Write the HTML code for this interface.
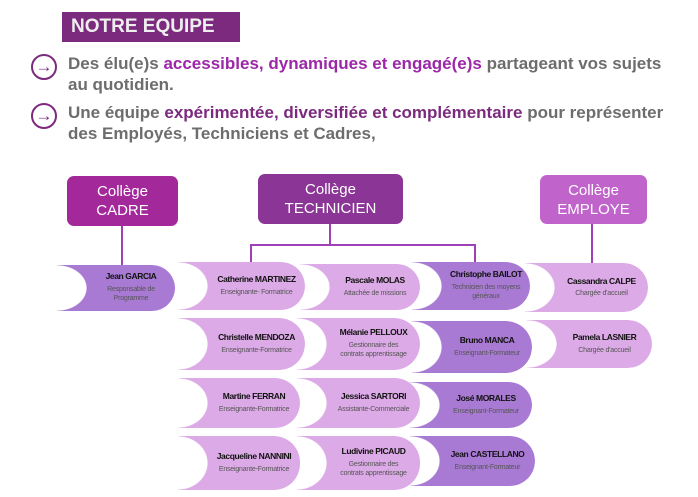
<!DOCTYPE html>
<html><head><meta charset="utf-8"><style>
body{margin:0;width:698px;height:497px;background:#fff;position:relative;overflow:hidden;font-family:"Liberation Sans",sans-serif}
.t{position:absolute;left:62px;top:12px;width:178px;height:30px;background:#7c2a7e;color:#eee;font-weight:bold;font-size:19px;line-height:30px;padding-left:9px;box-sizing:border-box}
.p{position:absolute;left:68px;color:#6d6d6d;font-weight:bold;line-height:21px;white-space:nowrap;font-size:17px}
.p b{color:#9c27a8}
.c{position:absolute;left:31px;width:22px;height:22px;border:2px solid #7c2a7e;border-radius:50%;color:#7c2a7e;font-size:17px;line-height:21px;text-align:center}
.h{position:absolute;color:#fff;font-size:15px;line-height:19px;text-align:center;border-radius:7px;display:flex;align-items:center;justify-content:center}
.l{position:absolute;background:#a040b8}
.k{position:absolute;border-radius:0 26px 26px 0;display:flex;flex-direction:column;justify-content:center;align-items:center;padding-left:30px;box-sizing:border-box;text-align:center;color:#555;font-size:7px;line-height:9.5px;letter-spacing:-0.2px;
-webkit-mask:radial-gradient(ellipse 30px 50% at 0 50%,transparent 97%,#000 100%);mask:radial-gradient(ellipse 30px 50% at 0 50%,transparent 97%,#000 100%)}
.k span,.k i{font-style:normal;white-space:nowrap}
.k span{color:#111;font-weight:bold;font-size:8.5px;margin-bottom:3px;letter-spacing:-0.4px}
.a{background:#dcaae6}.d{background:#a97ad4}
</style></head><body>
<div class="t">NOTRE EQUIPE</div>
<div class="c" style="top:54px">→</div>
<div class="p" style="top:53px">Des élu(e)s <b>accessibles, dynamiques et engagé(e)s</b> partageant vos sujets<br>au quotidien.</div>
<div class="c" style="top:103px">→</div>
<div class="p" style="top:102px">Une équipe <b style="color:#7c2a7e">expérimentée, diversifiée et complémentaire</b> pour représenter<br>des Employés, Techniciens et Cadres,</div>

<div class="l" style="left:121px;top:226px;width:2px;height:40px"></div>
<div class="l" style="left:329px;top:224px;width:2px;height:22px"></div>
<div class="l" style="left:250px;top:244px;width:226px;height:2px"></div>
<div class="l" style="left:250px;top:244px;width:2px;height:20px"></div>
<div class="l" style="left:474px;top:244px;width:2px;height:20px"></div>
<div class="l" style="left:591px;top:224px;width:2px;height:40px"></div>

<div class="h" style="left:67px;top:176px;width:111px;height:50px;background:#a3299b">Collège<br>CADRE</div>
<div class="h" style="left:258px;top:174px;width:145px;height:50px;background:#8b3596">Collège<br>TECHNICIEN</div>
<div class="h" style="left:540px;top:175px;width:107px;height:49px;background:#c064cc">Collège<br>EMPLOYE</div>

<div class="k d" style="left:57px;top:265px;width:118px;height:46px"><span>Jean GARCIA</span><i>Responsable de<br>Programme</i></div>
<div class="k a" style="left:178px;top:262px;width:127px;height:48px"><span>Catherine MARTINEZ</span><i>Enseignante- Formatrice</i></div>
<div class="k a" style="left:300px;top:264px;width:120px;height:46px"><span>Pascale MOLAS</span><i>Attachée de missions</i></div>
<div class="k d" style="left:412px;top:262px;width:118px;height:48px"><span>Christophe BAILOT</span><i>Technicien des moyens<br>généraux</i></div>
<div class="k a" style="left:525px;top:263px;width:123px;height:49px"><span>Cassandra CALPE</span><i>Chargée d'accueil</i></div>

<div class="k a" style="left:178px;top:318px;width:127px;height:52px"><span>Christelle MENDOZA</span><i>Enseignante-Formatrice</i></div>
<div class="k a" style="left:297px;top:318px;width:123px;height:52px"><span>Mélanie PELLOUX</span><i>Gestionnaire des<br>contrats apprentissage</i></div>
<div class="k d" style="left:412px;top:321px;width:120px;height:52px"><span>Bruno MANCA</span><i>Enseignant-Formateur</i></div>
<div class="k a" style="left:527px;top:320px;width:125px;height:48px"><span>Pamela LASNIER</span><i>Chargée d'accueil</i></div>

<div class="k a" style="left:178px;top:378px;width:122px;height:50px"><span>Martine FERRAN</span><i>Enseignante-Formatrice</i></div>
<div class="k a" style="left:297px;top:378px;width:123px;height:50px"><span>Jessica SARTORI</span><i>Assistante-Commerciale</i></div>
<div class="k d" style="left:410px;top:382px;width:122px;height:46px"><span>José MORALES</span><i>Enseignant-Formateur</i></div>

<div class="k a" style="left:178px;top:436px;width:122px;height:54px"><span>Jacqueline NANNINI</span><i>Enseignante-Formatrice</i></div>
<div class="k a" style="left:297px;top:436px;width:123px;height:54px"><span>Ludivine PICAUD</span><i>Gestionnaire des<br>contrats apprentissage</i></div>
<div class="k d" style="left:410px;top:436px;width:125px;height:50px"><span>Jean CASTELLANO</span><i>Enseignant-Formateur</i></div>
</body></html>
